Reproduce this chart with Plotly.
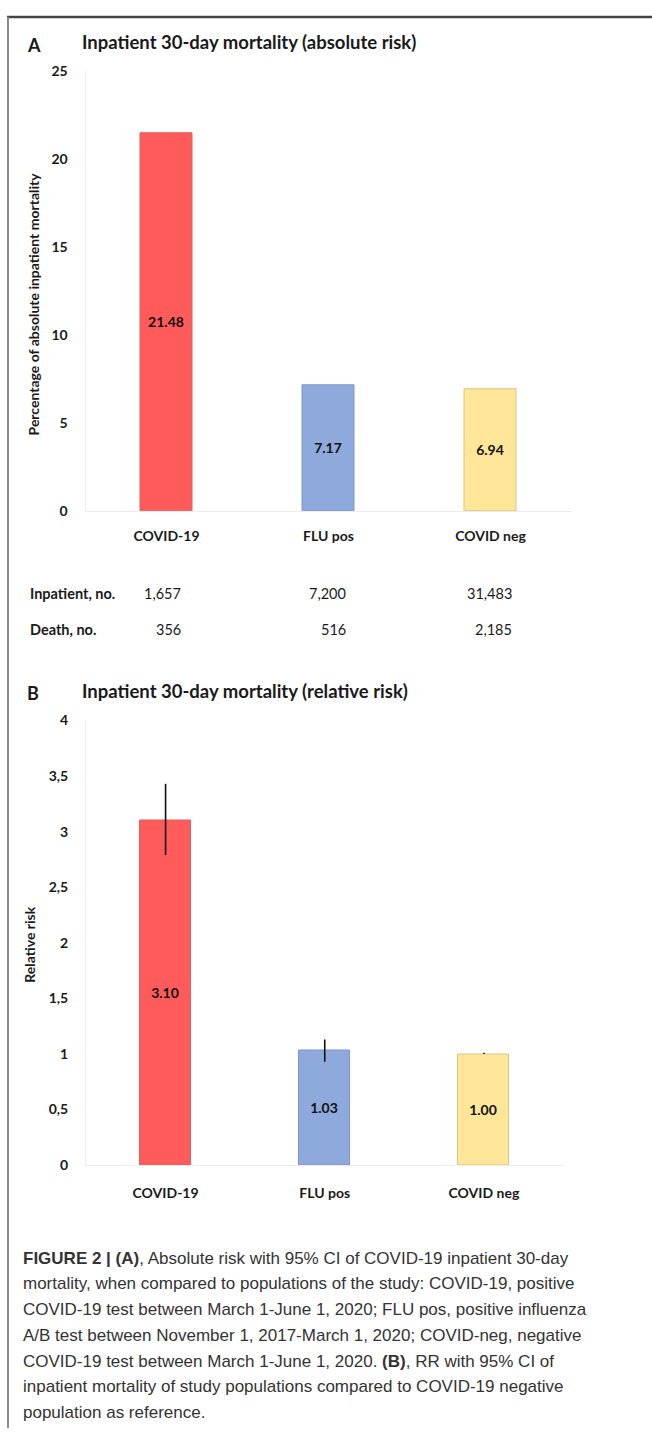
import plotly.graph_objects as go

# --- data -------------------------------------------------------------
groups = ["COVID-19", "FLU pos", "COVID neg"]
abs_mortality = [21.48, 7.17, 6.94]          # % inpatient 30-day mortality
inpatients = ["1,657", "7,200", "31,483"]
deaths = ["356", "516", "2,185"]

rel_risk = [3.10, 1.03, 1.00]
rr_ci_low = [2.79, 0.93, 1.00]
rr_ci_high = [3.43, 1.13, 1.01]

abs_ticks = [0, 5, 10, 15, 20, 25]
rr_ticks = [0, 0.5, 1, 1.5, 2, 2.5, 3, 3.5, 4]
rr_ticktext = ["0", "0,5", "1", "1,5", "2", "2,5", "3", "3,5", "4"]

caption_lines = [
    "<b>FIGURE 2 | (A)</b>, Absolute risk with 95% CI of COVID-19 inpatient 30-day",
    "mortality, when compared to populations of the study: COVID-19, positive",
    "COVID-19 test between March 1-June 1, 2020; FLU pos, positive influenza",
    "A/B test between November 1, 2017-March 1, 2020; COVID-neg, negative",
    "COVID-19 test between March 1-June 1, 2020. <b>(B)</b>, RR with 95% CI of",
    "inpatient mortality of study populations compared to COVID-19 negative",
    "population as reference.",
]

# --- styling ----------------------------------------------------------
W, H = 652, 1436
bar_fill = ["#FF5B5B", "#8EA9DB", "#FFE699"]
bar_edge = ["#E06060", "#7F97C8", "#D9C684"]
FONT = "Lato"
TXT = "#1a1a1a"


def px_x(x):
    return x / W


def px_y(y):
    return 1 - y / H


fig = go.Figure()

fig.add_trace(go.Bar(
    x=groups, y=abs_mortality, width=0.315,
    marker=dict(color=bar_fill, line=dict(color=bar_edge, width=1)),
    texttemplate="<b>%{y:.2f}</b>", textposition="inside",
    insidetextanchor="middle", textangle=0,
    textfont=dict(family=FONT, size=14, color="#111"),
    xaxis="x", yaxis="y", showlegend=False, hoverinfo="skip",
))

fig.add_trace(go.Bar(
    x=groups, y=rel_risk, width=0.32,
    marker=dict(color=bar_fill, line=dict(color=bar_edge, width=1)),
    error_y=dict(
        type="data", symmetric=False,
        array=[h - v for h, v in zip(rr_ci_high, rel_risk)],
        arrayminus=[v - l for l, v in zip(rr_ci_low, rel_risk)],
        color="#111", thickness=1.6, width=0,
    ),
    texttemplate="<b>%{y:.2f}</b>", textposition="inside",
    insidetextanchor="middle", textangle=0,
    textfont=dict(family=FONT, size=14, color="#111"),
    xaxis="x2", yaxis="y2", showlegend=False, hoverinfo="skip",
))

axis_line = "#ececec"
tickfont = dict(family=FONT, size=14, color=TXT, weight="bold")

fig.update_layout(
    width=W, height=H,
    margin=dict(l=0, r=0, t=0, b=0),
    paper_bgcolor="white", plot_bgcolor="white",
    bargap=0,
    xaxis=dict(domain=[px_x(85.5), px_x(571.5)], anchor="y",
               showgrid=False, zeroline=False, showline=True,
               linecolor=axis_line, linewidth=1, ticks="",
               tickfont=tickfont, ticklabelstandoff=12),
    yaxis=dict(domain=[px_y(508), px_y(63)], anchor="x",
               range=[0, 25], tickvals=abs_ticks, showgrid=False,
               zeroline=False, showline=True, linecolor=axis_line,
               linewidth=1, ticks="", tickfont=tickfont,
               ticklabelstandoff=14),
    xaxis2=dict(domain=[px_x(86), px_x(563.5)], anchor="y2",
                showgrid=False, zeroline=False, showline=True,
                linecolor=axis_line, linewidth=1, ticks="",
                tickfont=tickfont, ticklabelstandoff=15),
    yaxis2=dict(domain=[px_y(1170), px_y(720)], anchor="x2",
                range=[0, 4], tickvals=rr_ticks, ticktext=rr_ticktext,
                showgrid=False, zeroline=False, showline=True,
                linecolor=axis_line, linewidth=1, ticks="",
                tickfont=tickfont, ticklabelstandoff=14),
)

ann = []


def text(x, y, s, size=13, bold=False, anchor="left", angle=0,
         family=FONT, color=TXT):
    ann.append(dict(
        x=px_x(x), y=px_y(y), xref="paper", yref="paper",
        text=f"<b>{s}</b>" if bold else s, showarrow=False,
        xanchor=anchor, yanchor="middle", textangle=angle,
        font=dict(family=family, size=size, color=color),
    ))


# panel headings
text(25, 36, "A", size=18, bold=True)
text(80, 33, "Inpatient 30-day mortality (absolute risk)", size=18.5, bold=True)
text(25, 692, "B", size=18, bold=True)
text(80, 690, "Inpatient 30-day mortality (relative risk)", size=18.5, bold=True)

# axis titles
text(33, 299, "Percentage of absolute inpatient mortality", size=14,
     bold=True, anchor="center", angle=-90)
text(30, 947, "Relative risk", size=14, bold=True, anchor="center",
     angle=-90)

# counts table under panel A
text(28, 592, "Inpatient, no.", size=14.5, bold=True)
text(28, 628, "Death, no.", size=14.5, bold=True)
for xr, n_in, n_d in zip([183, 348, 514], inpatients, deaths):
    text(xr, 592, n_in, size=14.5, anchor="right")
    text(xr, 628, n_d, size=14.5, anchor="right")

# figure caption
for i, line in enumerate(caption_lines):
    text(21, 1264 + i * 26.1, line, size=17, family="Liberation Sans",
         color="#333333")

fig.update_layout(annotations=ann)

# frame around the figure
fig.add_shape(type="line", xref="paper", yref="paper",
              x0=px_x(7), x1=1, y0=px_y(8), y1=px_y(8),
              line=dict(color="#444444", width=2.5))
fig.add_shape(type="line", xref="paper", yref="paper",
              x0=px_x(8), x1=px_x(8), y0=px_y(8), y1=0,
              line=dict(color="#8a8a8a", width=2))

fig.write_html("out.html", post_script="document.body.style.margin='0';")
